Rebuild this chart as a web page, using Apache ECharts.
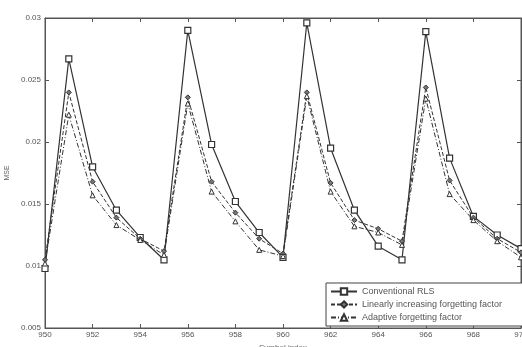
<!DOCTYPE html>
<html><head><meta charset="utf-8">
<script src="https://cdn.jsdelivr.net/npm/echarts@6/dist/echarts.min.js"></script>
<style>html,body{margin:0;padding:0;background:#fff}#c{width:522px;height:347px}</style>
</head><body><div id="c"></div>
<script>
const symbolIndex = [950,951,952,953,954,955,956,957,958,959,960,961,962,963,964,965,966,967,968,969,970];
const conventionalRLS = [0.0098,0.0267,0.0180,0.0145,0.0123,0.0105,0.0290,0.0198,0.0152,0.0127,0.0107,0.0296,0.0195,0.0145,0.0116,0.0105,0.0289,0.0187,0.0140,0.0125,0.0114];
const linearFF = [0.0105,0.0240,0.0168,0.0139,0.0122,0.0112,0.0236,0.0168,0.0143,0.0122,0.0110,0.0240,0.0167,0.0137,0.0130,0.0120,0.0244,0.0169,0.0139,0.0122,0.0111];
const adaptiveFF = [0.0102,0.0222,0.0157,0.0133,0.0121,0.0109,0.0231,0.0160,0.0136,0.0113,0.0108,0.0237,0.0160,0.0132,0.0127,0.0117,0.0235,0.0158,0.0137,0.0120,0.0107];
const seriesNames = ['Conventional RLS','Linearly increasing forgetting factor','Adaptive forgetting factor'];
const xTicks = [950,952,954,956,958,960,962,964,966,968,970];
const yTicks = [0.005,0.01,0.015,0.02,0.025,0.03];

const chart = echarts.init(document.getElementById('c'));
const pair = arr => symbolIndex.map((x,i)=>[x,arr[i]]);
const lineCol = '#333';
const axisCommon = {
  axisLine:{show:true,lineStyle:{color:'#555',width:1}},
  axisTick:{show:true,inside:true,length:4,lineStyle:{color:'#555'}},
  splitLine:{show:false}
};
chart.setOption({
  animation:false,
  backgroundColor:'#fff',
  grid:{left:45,right:1,top:18,bottom:19,show:true,borderColor:'#555',borderWidth:1,
    containLabel:false,outerBoundsMode:'none'},
  legend:{
    orient:'vertical', left:326, top:283, itemGap:4, itemWidth:26, itemHeight:8,
    borderColor:'#444', borderWidth:1, backgroundColor:'#fff', padding:[4,40,4,4],
    textStyle:{fontSize:9,color:'#555',fontFamily:'Liberation Sans'},
    data:seriesNames
  },
  xAxis:[
    Object.assign({type:'value',min:xTicks[0],max:xTicks[xTicks.length-1],interval:2,
      name:'Symbol index',nameLocation:'middle',nameGap:9,
      nameTextStyle:{fontSize:8,color:'#666',fontFamily:'Liberation Sans'},
      axisLabel:{fontSize:8,color:'#555',margin:3,fontFamily:'Liberation Sans'}},axisCommon),
    Object.assign({type:'value',position:'top',min:xTicks[0],max:xTicks[xTicks.length-1],interval:2,
      axisLabel:{show:false}},axisCommon)
  ],
  yAxis:[
    Object.assign({type:'value',min:yTicks[0],max:yTicks[yTicks.length-1],interval:0.005,
      name:'MSE',nameLocation:'middle',nameGap:33,
      nameTextStyle:{fontSize:7,color:'#666',fontFamily:'Liberation Sans'},
      axisLabel:{fontSize:8,color:'#555',margin:4,fontFamily:'Liberation Sans',formatter:v=>String(+v.toFixed(3))}},axisCommon),
    Object.assign({type:'value',position:'right',min:yTicks[0],max:yTicks[yTicks.length-1],interval:0.005,
      axisLabel:{show:false}},axisCommon)
  ],
  series:[
    {name:seriesNames[0],type:'line',data:pair(conventionalRLS),symbol:'rect',symbolSize:6,
      lineStyle:{color:lineCol,width:1.2},itemStyle:{color:'#fff',borderColor:'#333',borderWidth:1.2}},
    {name:seriesNames[1],type:'line',data:pair(linearFF),symbol:'diamond',symbolSize:5,
      lineStyle:{color:lineCol,width:1,type:[4,2]},itemStyle:{color:'#777',borderColor:'#333',borderWidth:1}},
    {name:seriesNames[2],type:'line',data:pair(adaptiveFF),symbol:'triangle',symbolSize:5,
      lineStyle:{color:lineCol,width:1,type:[5,2,1,2]},itemStyle:{color:'#fff',borderColor:'#333',borderWidth:1}}
  ]
});
</script></body></html>
